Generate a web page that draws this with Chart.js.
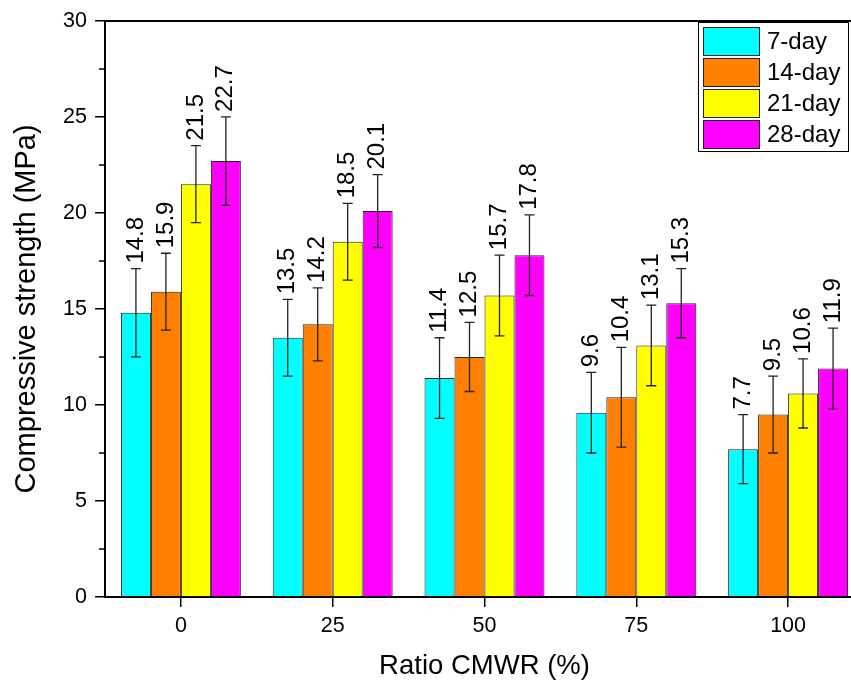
<!DOCTYPE html>
<html lang="en">
    <head>
        <meta charset="UTF-8">
        <title>Compressive strength vs CMWR ratio</title>
        <script src="https://cdn.jsdelivr.net/npm/chart.js"></script>
        <style>
            html, body { margin: 0; padding: 0; overflow: hidden; background: #fff; }
            .chart-container { width: 880px; height: 680px; }
        </style>
    </head>
    <body>
        <div class="chart-container">
            <canvas id="strengthChart" width="880" height="680"></canvas>
        </div>

        <script>
            // Values
            const ratios = ['0', '25', '50', '75', '100'];
            const day7 = [14.8, 13.5, 11.4, 9.6, 7.7];
            const day14 = [15.9, 14.2, 12.5, 10.4, 9.5];
            const day21 = [21.5, 18.5, 15.7, 13.1, 10.6];
            const day28 = [22.7, 20.1, 17.8, 15.3, 11.9];
            const err7 = [2.3, 2.0, 2.1, 2.1, 1.8];
            const err14 = [2.0, 1.9, 1.8, 2.6, 2.0];
            const err21 = [2.0, 2.0, 2.1, 2.1, 1.8];
            const err28 = [2.3, 1.9, 2.1, 1.8, 2.1];
            const yTicks = [0, 5, 10, 15, 20, 25, 30];

            const FONT = "'Liberation Sans', Arial, sans-serif";

            // Error bars + rotated value labels, drawn from the bar elements
            const errorBarPlugin = {
                id: 'errorBars',
                afterDatasetsDraw(chart) {
                    const ctx = chart.ctx;
                    const y = chart.scales.y;
                    chart.data.datasets.forEach((ds, i) => {
                        const meta = chart.getDatasetMeta(i);
                        meta.data.forEach((bar, j) => {
                            const v = ds.data[j];
                            const e = ds.errors[j];
                            const yTop = y.getPixelForValue(v + e);
                            const yBot = y.getPixelForValue(v - e);
                            ctx.save();
                            ctx.strokeStyle = '#222';
                            ctx.lineWidth = 1.3;
                            ctx.beginPath();
                            ctx.moveTo(bar.x, yTop);
                            ctx.lineTo(bar.x, yBot);
                            ctx.moveTo(bar.x - 5, yTop);
                            ctx.lineTo(bar.x + 5, yTop);
                            ctx.moveTo(bar.x - 5, yBot);
                            ctx.lineTo(bar.x + 5, yBot);
                            ctx.stroke();

                            ctx.translate(bar.x, yTop - 5);
                            ctx.rotate(-Math.PI / 2);
                            ctx.fillStyle = '#000';
                            ctx.font = '24px ' + FONT;
                            ctx.textAlign = 'left';
                            ctx.textBaseline = 'middle';
                            ctx.fillText(v.toFixed(1), 0, 0);
                            ctx.restore();
                        });
                    });
                }
            };

            // Top frame line, minor y ticks and the legend box inside the plot
            const framePlugin = {
                id: 'frame',
                afterDraw(chart) {
                    const ctx = chart.ctx;
                    const area = chart.chartArea;
                    const y = chart.scales.y;
                    ctx.save();
                    ctx.strokeStyle = '#000';
                    ctx.lineWidth = 2;
                    ctx.beginPath();
                    ctx.moveTo(area.left - 1, area.top);
                    ctx.lineTo(area.right, area.top);
                    ctx.stroke();

                    ctx.lineWidth = 1.5;
                    ctx.beginPath();
                    for (let k = 0; k < yTicks.length - 1; k++) {
                        const py = Math.round(y.getPixelForValue((yTicks[k] + yTicks[k + 1]) / 2));
                        ctx.moveTo(area.left - 6, py);
                        ctx.lineTo(area.left, py);
                    }
                    ctx.stroke();

                    // legend
                    const lx = 698, ly = 22, lw = 150, lh = 129;
                    ctx.fillStyle = '#fff';
                    ctx.fillRect(lx, ly, lw, lh);
                    ctx.lineWidth = 1;
                    ctx.strokeStyle = '#000';
                    ctx.strokeRect(lx + 0.5, ly + 0.5, lw, lh);
                    ctx.font = '24px ' + FONT;
                    ctx.textAlign = 'left';
                    ctx.textBaseline = 'middle';
                    chart.data.datasets.forEach((ds, i) => {
                        const sy = ly + 5 + i * 31;
                        ctx.fillStyle = ds.backgroundColor;
                        ctx.fillRect(lx + 5, sy, 56, 28);
                        ctx.strokeStyle = '#222';
                        ctx.strokeRect(lx + 5.5, sy + 0.5, 56, 28);
                        ctx.fillStyle = '#000';
                        ctx.fillText(ds.label, lx + 69, sy + 15);
                    });
                    ctx.restore();
                }
            };

            function makeSet(label, data, errors, color) {
                return {
                    label: label,
                    data: data,
                    errors: errors,
                    backgroundColor: color,
                    borderColor: '#222',
                    borderWidth: 1,
                    borderSkipped: 'bottom',
                    categoryPercentage: 0.79,
                    barPercentage: 1.0
                };
            }

            const config = {
                type: 'bar',
                data: {
                    labels: ratios,
                    datasets: [
                        makeSet('7-day', day7, err7, '#00FFFF'),
                        makeSet('14-day', day14, err14, '#FF8000'),
                        makeSet('21-day', day21, err21, '#FFFF00'),
                        makeSet('28-day', day28, err28, '#FF00FF')
                    ]
                },
                options: {
                    responsive: false,
                    animation: false,
                    layout: { padding: { top: 20, right: 16, left: 0, bottom: 0 } },
                    plugins: {
                        legend: { display: false },
                        tooltip: { enabled: false }
                    },
                    scales: {
                        x: {
                            grid: { offset: false, drawOnChartArea: false, tickLength: 10, color: '#000', lineWidth: 1.5 },
                            border: { display: true, color: '#000', width: 2 },
                            ticks: { color: '#000', padding: 6, font: { family: FONT, size: 21.5 } },
                            title: {
                                display: true, text: 'Ratio CMWR (%)', color: '#000',
                                font: { family: FONT, size: 27.5, lineHeight: 1 }, padding: 0
                            },
                            afterFit(scale) { scale.height = 83; }
                        },
                        y: {
                            min: 0,
                            max: 30,
                            ticks: { stepSize: 5, color: '#000', padding: 8, font: { family: FONT, size: 21.5 } },
                            grid: { drawOnChartArea: false, tickLength: 10, color: '#000', lineWidth: 1.5 },
                            border: { display: true, color: '#000', width: 2 },
                            title: {
                                display: true, text: 'Compressive strength (MPa)', color: '#000',
                                font: { family: FONT, size: 29, lineHeight: 1 }, padding: { top: 12, bottom: 0 }
                            },
                            afterFit(scale) { scale.width = 105; }
                        }
                    }
                },
                plugins: [errorBarPlugin, framePlugin]
            };

            const ctx = document.getElementById('strengthChart').getContext('2d');
            new Chart(ctx, config);
        </script>
    </body>
</html>
